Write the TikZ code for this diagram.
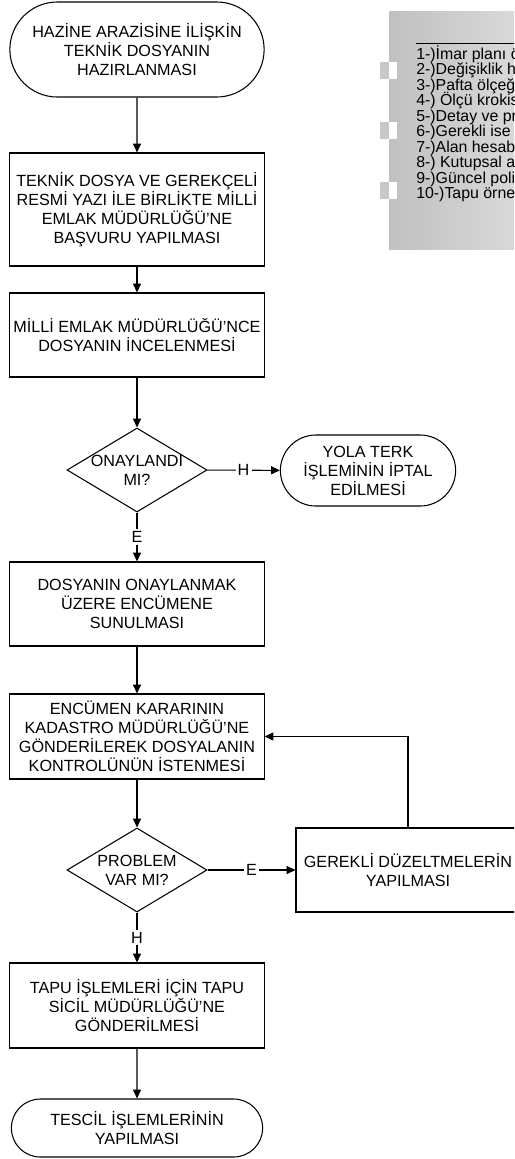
\documentclass[tikz,border=0pt]{standalone}
\usepackage{fontspec}
\setmainfont{Liberation Sans}
\usepackage{tikz}
\usetikzlibrary{arrows.meta, shapes.geometric, shapes.misc}

\definecolor{panelleft}{RGB}{192,192,192}
\definecolor{panelright}{RGB}{222,222,222}
\definecolor{tabgray}{RGB}{200,200,200}

\tikzset{
  process/.style={draw, line width=0.75pt, rectangle, minimum width=6.35cm, align=center, inner sep=1pt},
  terminal/.style={draw, line width=0.75pt, rounded rectangle, align=center, inner sep=1pt},
  decision/.style={draw, line width=0.75pt, diamond, minimum width=3.5cm, minimum height=2.1cm, inner sep=0pt},
  flow/.style={line width=0.75pt, -{Triangle[length=2.2mm, width=2mm]}},
  answer/.style={fill=white, inner sep=1.5pt},
}

\begin{document}
\begin{tikzpicture}[x=0.025cm, y=-0.025cm,
  every node/.append style={font=\fontsize{11.5}{13.5}\selectfont}]

	\useasboundingbox (0,0) rectangle (514,1159);
	\clip (0,0) rectangle (514,1159);

	% list panel on the right
	\shade[left color=panelleft, right color=panelright] (389,11) rectangle (540,249);
	\draw[line width=0.6pt] (416,43) -- (540,43);
	\foreach \ty in {62,122,182}{
		\fill[tabgray] (380,\ty) rectangle (389,\ty+17);
		\fill[white] (389,\ty) rectangle (397,\ty+17);
	}
	\foreach \txt [count=\i] in {1-)İmar planı ö, 2-)Değişiklik h, 3-)Pafta ölçeğ, 4-) Ölçü krokis,
		5-)Detay ve pr, 6-)Gerekli ise, 7-)Alan hesab, 8-) Kutupsal a, 9-)Güncel poli, 10-)Tapu örne}{
		\node[anchor=base west, inner sep=0pt, font=\fontsize{11.3}{11}\selectfont] (item\i) at (416,{59+15.5*(\i-1)}) {\txt};
	}

	% flow chart
	\node[terminal, minimum width=6.425cm, minimum height=2.375cm] (start) at (137,49.5)
		{HAZİNE ARAZİSİNE İLİŞKİN\\TEKNİK DOSYANIN\\HAZIRLANMASI};
	\node[process, minimum height=2.825cm] (basvuru) at (137,209.5)
		{TEKNİK DOSYA VE GEREKÇELİ\\RESMİ YAZI İLE BİRLİKTE MİLLİ\\EMLAK MÜDÜRLÜĞÜ’NE\\BAŞVURU YAPILMASI};
	\node[process, minimum height=2.1cm] (inceleme) at (137,335)
		{MİLLİ EMLAK MÜDÜRLÜĞÜ’NCE\\DOSYANIN İNCELENMESİ};
	\node[decision, label={[align=center]center:ONAYLANDI\\MI?}] (onay) at (137,470) {};
	\node[terminal, minimum width=4.45cm, minimum height=1.775cm] (iptal) at (368,470.5)
		{YOLA TERK\\İŞLEMİNİN İPTAL\\EDİLMESİ};
	\node[process, minimum height=2.1cm] (encumen) at (137,604)
		{DOSYANIN ONAYLANMAK\\ÜZERE ENCÜMENE\\SUNULMASI};
	\node[process, minimum height=2.125cm] (kadastro) at (137,736.5)
		{ENCÜMEN KARARININ\\KADASTRO MÜDÜRLÜĞÜ’NE\\GÖNDERİLEREK DOSYALANIN\\KONTROLÜNÜN İSTENMESİ};
	\node[decision, label={[align=center]center:PROBLEM\\VAR MI?}] (problem) at (137,870) {};
	\node[process, minimum width=5.6cm, minimum height=2.1cm] (duzeltme) at (408,870)
		{GEREKLİ DÜZELTMELERİN\\YAPILMASI};
	\node[process, minimum height=2.125cm] (tapu) at (137,1005.5)
		{TAPU İŞLEMLERİ İÇİN TAPU\\SİCİL MÜDÜRLÜĞÜ’NE\\GÖNDERİLMESİ};
	\node[terminal, minimum width=6.35cm, minimum height=1.45cm] (tescil) at (137,1128)
		{TESCİL İŞLEMLERİNİN\\YAPILMASI};

	\draw[flow] (start) -- (basvuru);
	\draw[flow] (basvuru) -- (inceleme);
	\draw[flow] (inceleme) -- (onay);
	\draw[flow] (onay) -- node[answer] {H} (iptal);
	\draw[flow] (onay) -- node[answer] {E} (encumen);
	\draw[flow] (encumen) -- (kadastro);
	\draw[flow] (kadastro) -- (problem);
	\draw[flow] (problem) -- node[answer] {E} (duzeltme);
	\draw[flow] (duzeltme.north) |- (kadastro.east);
	\draw[flow] (problem) -- node[answer] {H} (tapu);
	\draw[flow] (tapu) -- (tescil);

\end{tikzpicture}
\end{document}
